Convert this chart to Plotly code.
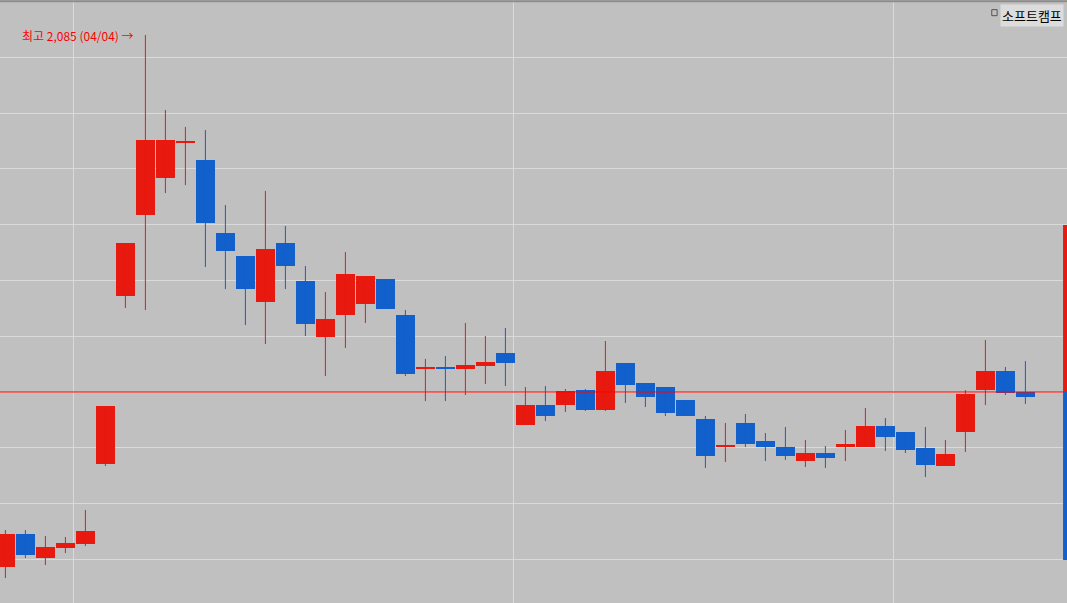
import plotly.graph_objects as go

# daily candles, index 0..51
opens = [1833, 1866, 1842, 1852, 1856, 1936, 2104, 2185, 2222, 2257, 2240, 2167, 2144, 2098,
         2157, 2119, 2063, 2085, 2096, 2121, 2085, 2031, 2033, 2031, 2034, 2047, 1975, 1995,
         1995, 2010, 1990, 2037, 2017, 2013, 2000, 1981, 1953, 1977, 1959, 1953, 1939, 1947,
         1953, 1953, 1974, 1968, 1952, 1934, 1968, 2010, 2029, 2008]
highs = [1870, 1870, 1864, 1863, 1890, 1994, 2157, 2365, 2290, 2273, 2270, 2195, 2144, 2209,
         2174, 2134, 2108, 2148, 2124, 2121, 2090, 2041, 2044, 2077, 2064, 2072, 2013, 2014,
         2011, 2011, 2059, 2037, 2017, 2013, 2000, 1984, 1977, 1986, 1967, 1973, 1960, 1954,
         1970, 1992, 1982, 1968, 1973, 1960, 2010, 2060, 2033, 2039]
lows = [1822, 1842, 1835, 1847, 1854, 1934, 2092, 2090, 2207, 2215, 2133, 2111, 2075, 2056,
        2111, 2064, 2024, 2052, 2077, 2091, 2024, 1999, 1999, 2005, 2016, 2014, 1975, 1979,
        1988, 1989, 1989, 1997, 1993, 1984, 1984, 1932, 1938, 1953, 1939, 1940, 1933, 1932,
        1939, 1953, 1949, 1947, 1923, 1934, 1948, 1995, 2005, 1996]
closes = [1866, 1845, 1853, 1857, 1869, 1994, 2157, 2260, 2260, 2259, 2177, 2149, 2111, 2151,
          2134, 2076, 2081, 2126, 2124, 2091, 2026, 2033, 2031, 2035, 2038, 2037, 1995, 1984,
          2009, 1990, 2029, 2015, 2003, 1987, 1984, 1944, 1955, 1956, 1953, 1944, 1947, 1942,
          1956, 1974, 1963, 1950, 1935, 1946, 2006, 2029, 2007, 2003]
base_price = 2008
high_label = '최고 2,085 (04/04) →'
high_index = 7

RED = '#e8190e'
BLUE = '#1160cc'
idx = list(range(len(opens)))
up = [c >= o for o, c in zip(opens, closes)]
colors = [RED if u else BLUE for u in up]

fig = go.Figure()
# wicks, one trace per colour
for flag, col in ((True, RED), (False, BLUE)):
    wx, wy = [], []
    for i in idx:
        if up[i] == flag:
            wx += [i, i, None]
            wy += [lows[i], highs[i], None]
    fig.add_trace(go.Scatter(x=wx, y=wy, mode='lines', line=dict(color=col, width=1),
                             showlegend=False, hoverinfo='skip'))
# bodies
fig.add_trace(go.Bar(x=idx, base=[min(o, c) for o, c in zip(opens, closes)],
                     y=[max(abs(c - o), 2) for o, c in zip(opens, closes)],
                     width=0.95, marker=dict(color=colors, line_width=0),
                     showlegend=False, hoverinfo='skip'))

fig.add_hline(y=base_price, line_color='#ff0000', line_width=1)
# side bar on the right edge
fig.add_shape(type='rect', xref='paper', x0=0.9963, x1=1, y0=base_price, y1=base_price + 167,
              fillcolor=RED, line_width=0)
fig.add_shape(type='rect', xref='paper', x0=0.9963, x1=1, y0=base_price - 168, y1=base_price,
              fillcolor=BLUE, line_width=0)
fig.add_shape(type='line', xref='paper', yref='paper', x0=0, x1=1, y0=0.998, y1=0.998,
              line=dict(color='#8c8c8c', width=2))
# legend marker box
fig.add_shape(type='rect', xref='paper', yref='paper', x0=0.9295, x1=0.9345, y0=0.974, y1=0.984,
              line=dict(color='#555', width=1), fillcolor='#c0c0c0')

fig.add_annotation(x=high_index - 0.45, y=highs[high_index], text=high_label, showarrow=False,
                   xanchor='right', font=dict(color='#ff0000', size=12, family='Noto Sans CJK KR'))
fig.add_annotation(xref='paper', yref='paper', x=0.997, y=0.994, xanchor='right', yanchor='top',
                   text='소프트캠프', showarrow=False, bgcolor='#dcdcdc', borderpad=1,
                   font=dict(color='#000', size=13, family='Noto Sans CJK KR'))

fig.update_xaxes(range=[-0.27, 53.08], tickvals=[3.4, 25.4, 44.4], showticklabels=False,
                 gridcolor='#dadada', gridwidth=1, zeroline=False, fixedrange=True)
fig.update_yaxes(range=[1797, 2400], tick0=base_price, dtick=55.8, showticklabels=False,
                 gridcolor='#dadada', gridwidth=1, zeroline=False)
fig.update_layout(width=1067, height=603, margin=dict(l=0, r=0, t=0, b=0),
                  plot_bgcolor='#c0c0c0', paper_bgcolor='#c0c0c0', bargap=0)

fig.write_html('out.html', config={'displayModeBar': False},
               post_script="document.body.style.margin='0';")
